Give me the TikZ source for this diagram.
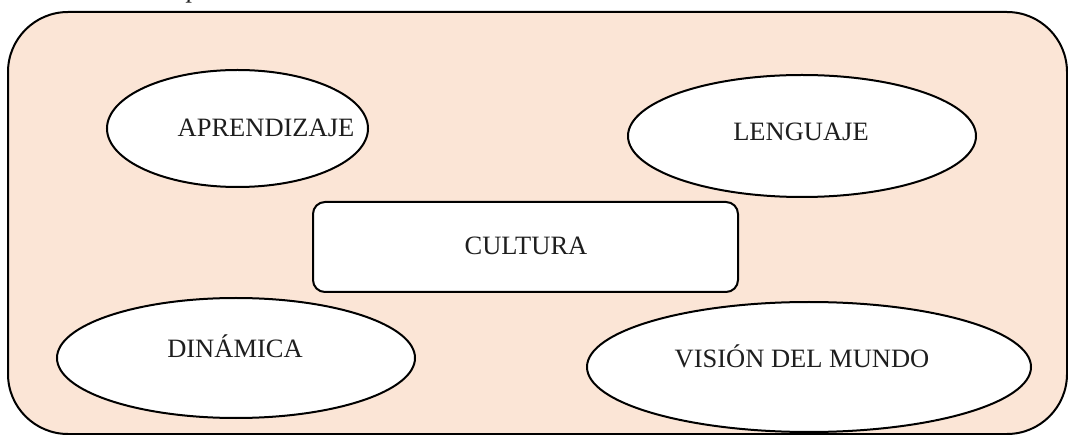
\documentclass[tikz,border=0pt]{standalone}
\usepackage{fontspec}
\setmainfont{Liberation Serif}
\usetikzlibrary{shapes.geometric}
\definecolor{peach}{HTML}{FBE5D6}
\definecolor{txt}{HTML}{1E1E1E}
\tikzset{
  frame/.style={draw=black, line width=2pt, fill=peach, rounded corners=60pt},
  oval/.style={draw=black, line width=2pt, fill=white, ellipse, inner sep=0pt},
  centerbox/.style={draw=black, line width=2pt, fill=white, rounded corners=12pt, inner sep=0pt},
  lbl/.style={anchor=base, inner sep=0pt, text=txt, font=\fontsize{26.5pt}{31pt}\selectfont},
}
\begin{document}
\begin{tikzpicture}[x=1pt, y=-1pt]
\useasboundingbox (0,0) rectangle (1068,435);
\node[lbl, font=\fontsize{26.5pt}{31pt}\selectfont\itshape] (frag) at (194,-2.5) {p};
\draw[frame] (8,12) rectangle (1067,434);
\node[oval, minimum width=261pt, minimum height=117pt] (aprE) at (237.5,128.5) {};
\node[oval, minimum width=348pt, minimum height=122pt] (lenE) at (802,136) {};
\node[oval, minimum width=358pt, minimum height=120pt] (dinE) at (236,358) {};
\node[oval, minimum width=444pt, minimum height=130pt] (visE) at (809,367) {};
\node[centerbox, minimum width=425pt, minimum height=90pt] (culB) at (525.5,247) {};
\node[lbl] (apr) at (266,137) {APRENDIZAJE};
\node[lbl] (len) at (801,141) {LENGUAJE};
\node[lbl] (din) at (235,358) {DINÁMICA};
\node[lbl] (vis) at (802,368) {VISIÓN DEL MUNDO};
\node[lbl] (cul) at (526,255) {CULTURA};
\end{tikzpicture}
\end{document}
